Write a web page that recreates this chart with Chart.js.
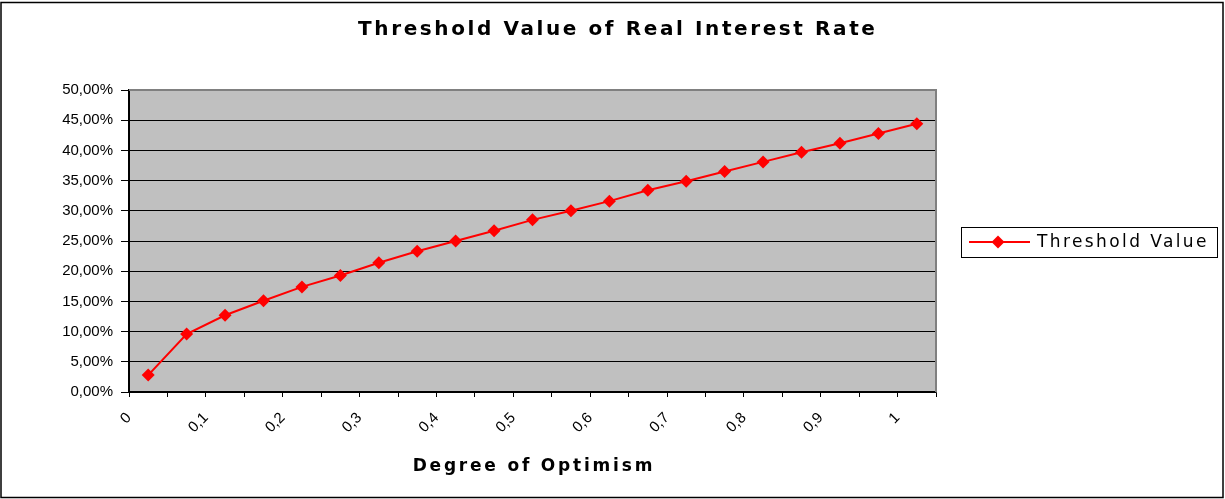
<!DOCTYPE html>
<html>
<head>
<meta charset="utf-8">
<script src="https://cdn.jsdelivr.net/npm/chart.js@4.4.1/dist/chart.umd.min.js"></script>
<style>
  html, body { margin: 0; padding: 0; background: #fff; }
  #chart { display: block; }
</style>
</head>
<body>
<canvas id="chart" width="1225" height="499"></canvas>
<script>
const chartTitle = 'Threshold Value of Real Interest Rate'
const xAxisTitle = 'Degree of Optimism'
const seriesLabel = 'Threshold Value'

// labels sit on every second category boundary, like the Excel original
const xTickLabels = ['0', '0,1', '0,2', '0,3', '0,4', '0,5', '0,6', '0,7', '0,8', '0,9', '1']

// threshold value in %, one per category slot
const thresholdValues = [2.8, 9.6, 12.7, 15.1, 17.4, 19.3, 21.4, 23.3, 25.0, 26.7, 28.5,
  30.0, 31.6, 33.4, 34.9, 36.5, 38.1, 39.7, 41.2, 42.8, 44.4]

const yMin = 0
const yMax = 50
const yStep = 5

const plotBg = '#C0C0C0'
const lineColor = '#FF0000'
const tickFont = {family: '"Liberation Sans", Arial, sans-serif', size: 15}

function drawSpacedText(ctx, text, x, y, font, spacing, align) {
  ctx.save()
  ctx.font = font
  ctx.letterSpacing = spacing + 'px'
  ctx.textAlign = align
  ctx.textBaseline = 'middle'
  ctx.fillStyle = '#000'
  const shift = align === 'center' ? spacing / 2 : 0
  ctx.fillText(text, x + shift, y)
  ctx.restore()
}

const excelLook = {
  id: 'excelLook',
  beforeDraw(chart) {
    const {ctx, chartArea: a} = chart
    ctx.save()
    ctx.fillStyle = '#fff'
    ctx.fillRect(0, 0, chart.width, chart.height)
    ctx.fillStyle = plotBg
    ctx.fillRect(a.left, a.top, a.right - a.left, a.bottom - a.top)
    ctx.restore()
  },
  afterDraw(chart) {
    const {ctx, chartArea: a} = chart
    ctx.save()
    // plot frame (top and right side)
    ctx.strokeStyle = '#808080'
    ctx.lineWidth = 2
    ctx.beginPath()
    ctx.moveTo(a.left, a.top)
    ctx.lineTo(a.right, a.top)
    ctx.lineTo(a.right, a.bottom)
    ctx.stroke()

    // outer frame
    ctx.strokeStyle = '#000'
    ctx.lineWidth = 1.5
    ctx.strokeRect(1, 2.5, chart.width - 3, chart.height - 4)
    ctx.restore()

    drawSpacedText(ctx, chartTitle, chart.width / 2 + 4, 30, 'bold 20px "DejaVu Sans"', 2.6, 'center')
    drawSpacedText(ctx, xAxisTitle, (a.left + a.right) / 2, 467, 'bold 17px "DejaVu Sans"', 2.8, 'center')

    // legend
    const ds = chart.data.datasets[0]
    const lx = 961, ly = 227, lw = 256, lh = 30
    const cy = ly + lh / 2
    const px = lx + 37
    const r = ds.pointRadius
    ctx.save()
    ctx.strokeStyle = '#000'
    ctx.lineWidth = 1
    ctx.strokeRect(lx + 0.5, ly + 0.5, lw, lh)
    ctx.strokeStyle = ds.borderColor
    ctx.lineWidth = ds.borderWidth
    ctx.beginPath()
    ctx.moveTo(lx + 8, cy)
    ctx.lineTo(lx + 69, cy)
    ctx.stroke()
    ctx.fillStyle = ds.backgroundColor
    ctx.beginPath()
    ctx.moveTo(px, cy - r)
    ctx.lineTo(px + r, cy)
    ctx.lineTo(px, cy + r)
    ctx.lineTo(px - r, cy)
    ctx.closePath()
    ctx.fill()
    ctx.restore()
    drawSpacedText(ctx, ds.label, lx + 76, cy + 1, '17px "DejaVu Sans"', 2.4, 'left')
  },
}

const chart = new Chart(document.getElementById('chart').getContext('2d'), {
  type: 'line',
  data: {
    datasets: [{
      label: seriesLabel,
      data: thresholdValues.map((v, i) => ({x: i + 0.5, y: v})),
      borderColor: lineColor,
      backgroundColor: lineColor,
      borderWidth: 2,
      pointStyle: 'rectRot',
      pointRadius: 6.5,
      pointBorderWidth: 0,
      pointBackgroundColor: lineColor,
      tension: 0,
    }],
  },
  options: {
    responsive: false,
    animation: false,
    devicePixelRatio: 1,
    layout: {
      padding: {top: 90, right: 289, bottom: 0, left: 0},
    },
    scales: {
      x: {
        type: 'linear',
        min: 0,
        max: thresholdValues.length,
        afterFit: scale => { scale.height = 107 },
        grid: {
          drawOnChartArea: false,
          drawTicks: true,
          tickLength: 5,
          color: '#000',
        },
        border: {display: true, color: '#000', width: 1.5},
        ticks: {
          stepSize: 1,
          autoSkip: false,
          minRotation: 45,
          maxRotation: 45,
          padding: 12,
          color: '#000',
          font: tickFont,
          callback: value => (value % 2 === 0 ? xTickLabels[value / 2] : ''),
        },
      },
      y: {
        min: yMin,
        max: yMax,
        afterFit: scale => { scale.width = 129 },
        grid: {
          color: ctx => (ctx.tick && ctx.tick.value === yMax ? '#808080' : '#000'),
          tickColor: '#000',
          tickLength: 8,
          lineWidth: 1,
        },
        border: {display: true, color: '#000', width: 2},
        ticks: {
          stepSize: yStep,
          padding: 8,
          color: '#000',
          font: tickFont,
          callback: value => value.toFixed(2).replace('.', ',') + '%',
        },
      },
    },
    plugins: {
      legend: {display: false},
      title: {display: false},
      tooltip: {enabled: false},
    },
  },
  plugins: [excelLook],
})
</script>
</body>
</html>
